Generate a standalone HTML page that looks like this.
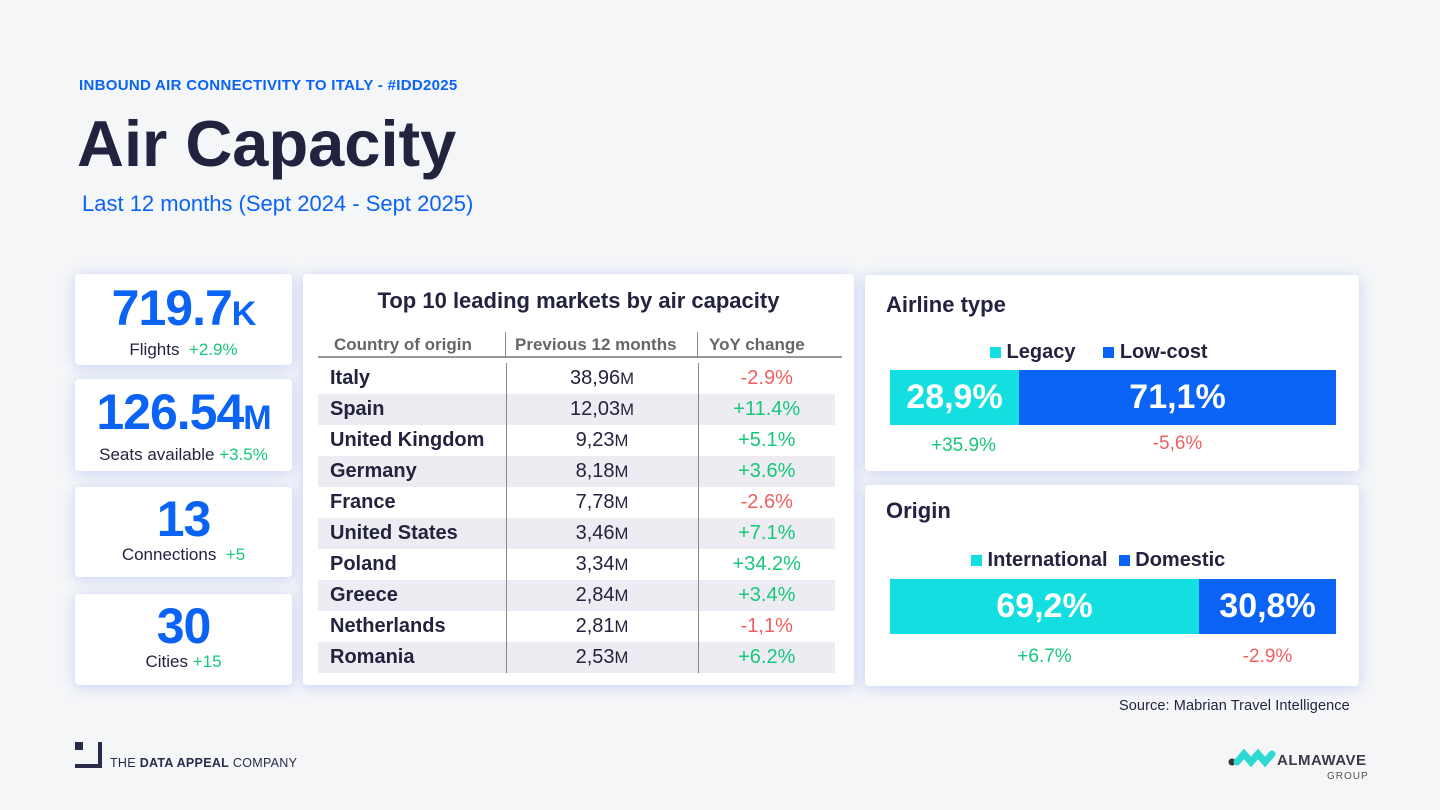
<!DOCTYPE html>
<html><head><meta charset="utf-8"><style>
*{margin:0;padding:0;box-sizing:border-box}
body{width:1440px;height:810px;background:#f5f6f8;font-family:"Liberation Sans",Arial,sans-serif;position:relative;overflow:hidden;color:#23233f}
.a{position:absolute}
.card{position:absolute;background:#fff;border-radius:4px;box-shadow:0 2px 14px rgba(80,120,230,.28)}
.big{color:#0a63f5;font-weight:700;text-align:center;letter-spacing:-1px}
.g{color:#17c77a}.r{color:#f06060}
.lbl{text-align:center;font-size:18px;color:#23233f}
table{border-collapse:collapse}
td{height:31px;font-size:20px}
td.c{font-weight:700;padding-left:12px;width:188px}
td.p{text-align:center;width:192px;border-left:1px solid #888;border-right:1px solid #888}
td.y{text-align:center;width:137px}
tr.s td{background:#ececf2}
</style></head><body>
<div class="a" style="left:79px;top:77px;font-size:15px;font-weight:700;color:#0a63f5;letter-spacing:0.3px">INBOUND AIR CONNECTIVITY TO ITALY - #IDD2025</div>
<div class="a" style="left:77px;top:106px;font-size:65px;font-weight:700;color:#23233f">Air Capacity</div>
<div class="a" style="left:82px;top:191px;font-size:22px;color:#0a63f5">Last 12 months (Sept 2024 - Sept 2025)</div>

<div class="card" style="left:75px;top:274px;width:217px;height:91px">
<div class="big" style="font-size:50px;margin-top:8px;line-height:52px">719.7<span style="font-size:34px">K</span></div>
<div class="lbl" style="font-size:17px">Flights &nbsp;<span class="g">+2.9%</span></div></div>
<div class="card" style="left:75px;top:379px;width:217px;height:92px">
<div class="big" style="font-size:50px;margin-top:6px;line-height:54px">126.54<span style="font-size:34px">M</span></div>
<div class="lbl" style="font-size:17px">Seats available <span class="g">+3.5%</span></div></div>
<div class="card" style="left:75px;top:487px;width:217px;height:90px">
<div class="big" style="font-size:50px;margin-top:6px;line-height:52px">13</div>
<div class="lbl" style="font-size:17px">Connections &nbsp;<span class="g">+5</span></div></div>
<div class="card" style="left:75px;top:594px;width:217px;height:91px">
<div class="big" style="font-size:50px;margin-top:6px;line-height:52px">30</div>
<div class="lbl" style="font-size:17px">Cities <span class="g">+15</span></div></div>

<div class="card" style="left:303px;top:274px;width:551px;height:411px">
<div class="a" style="left:0;width:551px;top:14px;text-align:center;font-size:22px;font-weight:700">Top 10 leading markets by air capacity</div>
<div class="a" style="left:15px;top:58px;width:524px;height:26px;border-bottom:2px solid #999;font-size:17px;font-weight:700;color:#666">
<span class="a" style="left:16px;top:3px">Country of origin</span><span class="a" style="left:197px;top:3px">Previous 12 months</span><span class="a" style="left:391px;top:3px">YoY change</span>
<div class="a" style="left:187px;top:0;height:26px;border-left:1px solid #888"></div><div class="a" style="left:379px;top:0;height:26px;border-left:1px solid #888"></div></div>
<table class="a" style="left:15px;top:89px;width:517px">
<tr><td class="c">Italy</td><td class="p">38,96<small>M</small></td><td class="y r">-2.9%</td></tr>
<tr class="s"><td class="c">Spain</td><td class="p">12,03<small>M</small></td><td class="y g">+11.4%</td></tr>
<tr><td class="c">United Kingdom</td><td class="p">9,23<small>M</small></td><td class="y g">+5.1%</td></tr>
<tr class="s"><td class="c">Germany</td><td class="p">8,18<small>M</small></td><td class="y g">+3.6%</td></tr>
<tr><td class="c">France</td><td class="p">7,78<small>M</small></td><td class="y r">-2.6%</td></tr>
<tr class="s"><td class="c">United States</td><td class="p">3,46<small>M</small></td><td class="y g">+7.1%</td></tr>
<tr><td class="c">Poland</td><td class="p">3,34<small>M</small></td><td class="y g">+34.2%</td></tr>
<tr class="s"><td class="c">Greece</td><td class="p">2,84<small>M</small></td><td class="y g">+3.4%</td></tr>
<tr><td class="c">Netherlands</td><td class="p">2,81<small>M</small></td><td class="y r">-1,1%</td></tr>
<tr class="s"><td class="c">Romania</td><td class="p">2,53<small>M</small></td><td class="y g">+6.2%</td></tr>
</table></div>

<div class="card" style="left:865px;top:275px;width:494px;height:196px">
<div class="a" style="left:21px;top:17px;font-size:22px;font-weight:700">Airline type</div>
<div class="a" style="left:125px;top:66px;font-size:20px;font-weight:700"><span style="display:inline-block;width:11px;height:11px;background:#14dfe0"></span> Legacy &nbsp; &nbsp; <span style="display:inline-block;width:11px;height:11px;background:#0a63f5"></span> Low-cost</div>
<div class="a" style="left:25px;top:95px;width:129px;height:55px;background:#14dfe0;color:#fff;font-size:34px;font-weight:700;text-align:center;line-height:55px">28,9%</div>
<div class="a" style="left:154px;top:95px;width:317px;height:55px;background:#0a63f5;color:#fff;font-size:34px;font-weight:700;text-align:center;line-height:55px">71,1%</div>
<div class="a g" style="left:25px;width:147px;top:160px;text-align:center;font-size:19px">+35.9%</div>
<div class="a r" style="left:154px;width:317px;top:158px;text-align:center;font-size:19px">-5,6%</div>
</div>
<div class="card" style="left:865px;top:485px;width:494px;height:201px">
<div class="a" style="left:21px;top:13px;font-size:22px;font-weight:700">Origin</div>
<div class="a" style="left:106px;top:64px;font-size:20px;font-weight:700"><span style="display:inline-block;width:11px;height:11px;background:#14dfe0"></span> International &nbsp;<span style="display:inline-block;width:11px;height:11px;background:#0a63f5"></span> Domestic</div>
<div class="a" style="left:25px;top:94px;width:309px;height:55px;background:#14dfe0;color:#fff;font-size:34px;font-weight:700;text-align:center;line-height:55px">69,2%</div>
<div class="a" style="left:334px;top:94px;width:137px;height:55px;background:#0a63f5;color:#fff;font-size:34px;font-weight:700;text-align:center;line-height:55px">30,8%</div>
<div class="a g" style="left:25px;width:309px;top:161px;text-align:center;font-size:19px">+6.7%</div>
<div class="a r" style="left:334px;width:137px;top:161px;text-align:center;font-size:19px">-2.9%</div>
</div>
<div class="a" style="left:1119px;top:698px;font-size:14.5px;color:#23233f;letter-spacing:0.1px">Source: Mabrian Travel Intelligence</div>

<div class="a" style="left:75px;top:742px;width:8px;height:8px;background:#2a2a4a"></div>
<div class="a" style="left:75px;top:764px;width:27px;height:4px;background:#2a2a4a"></div>
<div class="a" style="left:98px;top:742px;width:4px;height:26px;background:#2a2a4a"></div>
<div class="a" style="left:110px;top:756px;font-size:12.5px;color:#2a2a4a;letter-spacing:0.3px">THE <b>DATA APPEAL</b> COMPANY</div>
<svg class="a" style="left:1228px;top:748px" width="48" height="24"><circle cx="4" cy="14" r="3.5" fill="#333"/><path d="M9 14 L16 6 L23 14 L30 6 L37 14 L44 6" stroke="#2ddad3" stroke-width="7" fill="none" stroke-linecap="round"/></svg>
<div class="a" style="left:1277px;top:752px;font-size:15px;font-weight:700;color:#3a3a4a;letter-spacing:0.5px">ALMAWAVE</div>
<div class="a" style="left:1327px;top:771px;font-size:10px;color:#555;letter-spacing:1px">GROUP</div>
</body></html>
